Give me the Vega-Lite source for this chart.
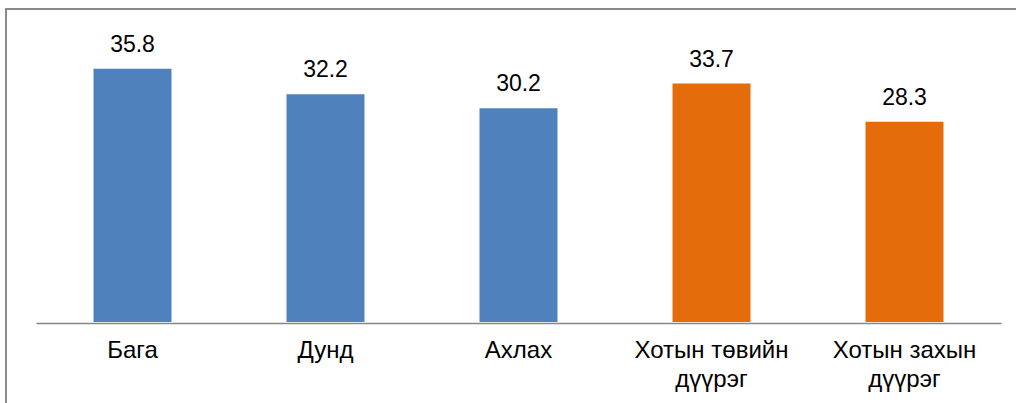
{
  "$schema": "https://vega.github.io/schema/vega-lite/v6.json",
  "autosize": "none",
  "width": 1022,
  "height": 402,
  "padding": {"left": 6, "top": 9, "right": 0, "bottom": 0},
  "background": "white",
  "config": {
    "view": {"stroke": "#8a8a8a", "strokeWidth": 2},
    "font": "Liberation Sans"
  },
  "data": {
    "values": [
      {"category": "Бага", "value": 35.8, "group": "level"},
      {"category": "Дунд", "value": 32.2, "group": "level"},
      {"category": "Ахлах", "value": 30.2, "group": "level"},
      {"category": "Хотын төвийн дүүрэг", "value": 33.7, "group": "location"},
      {"category": "Хотын захын дүүрэг", "value": 28.3, "group": "location"}
    ]
  },
  "encoding": {
    "x": {
      "field": "category",
      "type": "nominal",
      "sort": null,
      "scale": {"range": [30, 995], "paddingInner": 0.596, "paddingOuter": 0.298},
      "axis": {
        "title": null,
        "offset": -88,
        "labelAngle": 0,
        "labelFont": "Liberation Sans",
        "labelFontSize": 24,
        "labelColor": "#000000",
        "labelPadding": 15,
        "labelLineHeight": 29,
        "labelLimit": 0,
        "ticks": false,
        "domainColor": "#868686",
        "domainWidth": 1.5,
        "grid": false,
        "labelExpr": "datum.label == 'Хотын төвийн дүүрэг' ? ['Хотын төвийн', 'дүүрэг'] : datum.label == 'Хотын захын дүүрэг' ? ['Хотын захын', 'дүүрэг'] : datum.label"
      }
    },
    "y": {
      "field": "value",
      "type": "quantitative",
      "scale": {"domain": [0, 40], "range": [313, 30], "nice": false, "zero": true},
      "axis": null
    }
  },
  "layer": [
    {
      "mark": {"type": "bar"},
      "encoding": {
        "color": {
          "field": "group",
          "type": "nominal",
          "scale": {"domain": ["level", "location"], "range": ["#4F81BD", "#E46C0A"]},
          "legend": null
        }
      }
    },
    {
      "mark": {"type": "text", "baseline": "alphabetic", "dy": -17, "fontSize": 23, "color": "#000000", "font": "Liberation Sans"},
      "encoding": {
        "text": {"field": "value", "type": "quantitative", "format": ".1f"}
      }
    }
  ]
}
